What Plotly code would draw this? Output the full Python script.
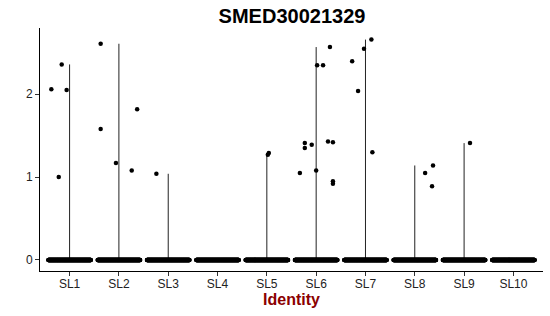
import numpy as np
import plotly.graph_objects as go

categories = ["SL1", "SL2", "SL3", "SL4", "SL5", "SL6", "SL7", "SL8", "SL9", "SL10"]

# non-zero expression values per cluster
nz_values = {
    "SL1": [2.06, 2.36, 2.05, 1.00],
    "SL2": [2.61, 1.58, 1.17, 1.08, 1.82],
    "SL3": [1.04],
    "SL4": [],
    "SL5": [1.29, 1.27],
    "SL6": [1.05, 1.41, 1.35, 1.39, 1.08, 2.35, 2.35, 2.57, 1.43, 1.42, 0.95, 0.92],
    "SL7": [2.40, 2.04, 2.55, 2.66, 1.30],
    "SL8": [1.05, 0.89, 1.14],
    "SL9": [1.41],
    "SL10": [],
}
# horizontal jitter of those points (category units)
nz_jitter = {
    "SL1": [-0.37, -0.16, -0.06, -0.22],
    "SL2": [-0.37, -0.37, -0.06, 0.26, 0.37],
    "SL3": [-0.24],
    "SL4": [],
    "SL5": [0.04, 0.02],
    "SL6": [-0.33, -0.23, -0.23, -0.09, 0.0, 0.02, 0.14, 0.28, 0.24, 0.34, 0.34, 0.34],
    "SL7": [-0.27, -0.15, -0.03, 0.12, 0.14],
    "SL8": [0.21, 0.35, 0.37],
    "SL9": [0.12],
    "SL10": [],
}
# number of zero-valued cells per cluster
zero_counts = [300, 300, 300, 300, 300, 300, 300, 300, 300, 300]

fig = go.Figure()

for i, cat in enumerate(categories):
    xc = i + 1
    vals = nz_values[cat]
    vmax = max(vals) if vals else 0.0
    if vmax > 0:
        fig.add_trace(go.Scatter(x=[xc, xc], y=[0, vmax], mode="lines",
                                 line=dict(color="#222222", width=1),
                                 hoverinfo="skip", showlegend=False))
    n = zero_counts[i]
    offs = np.linspace(-0.43, 0.43, n)
    fig.add_trace(go.Scatter(x=xc + offs, y=np.zeros(n), mode="markers",
                             marker=dict(color="black", size=4.5),
                             hoverinfo="skip", showlegend=False))
    if vals:
        fig.add_trace(go.Scatter(x=[xc + j for j in nz_jitter[cat]], y=vals,
                                 mode="markers",
                                 marker=dict(color="black", size=4.5),
                                 showlegend=False))

fig.update_layout(
    width=550, height=316,
    margin=dict(l=40, r=7, t=28, b=45, autoexpand=False),
    plot_bgcolor="white", paper_bgcolor="white",
    font=dict(family="Liberation Sans, Arial, sans-serif", color="black"),
    title=dict(text="<b>SMED30021329</b>", x=292 / 550, xanchor="center",
               y=1 - 16 / 316, yanchor="middle", yref="container",
               font=dict(size=20, color="black")),
)
fig.update_xaxes(
    range=[0.4, 10.6], tickmode="array", tickvals=list(range(1, 11)), ticktext=categories,
    showline=True, linecolor="black", linewidth=1, ticks="outside", ticklen=4,
    tickcolor="#333333", tickfont=dict(size=12, color="#222222"), ticklabelstandoff=-2,
    showgrid=False, zeroline=False, automargin=False,
    title=dict(text="<b>Identity</b>", font=dict(size=16, color="#8B0000"), standoff=2),
)
fig.update_yaxes(
    range=[-0.134, 2.80], tickvals=[0, 1, 2],
    showline=True, linecolor="black", linewidth=1, ticks="outside", ticklen=4,
    tickcolor="#333333", tickfont=dict(size=12, color="#222222"),
    showgrid=False, zeroline=False, automargin=False,
)

fig.write_html("out.html")
